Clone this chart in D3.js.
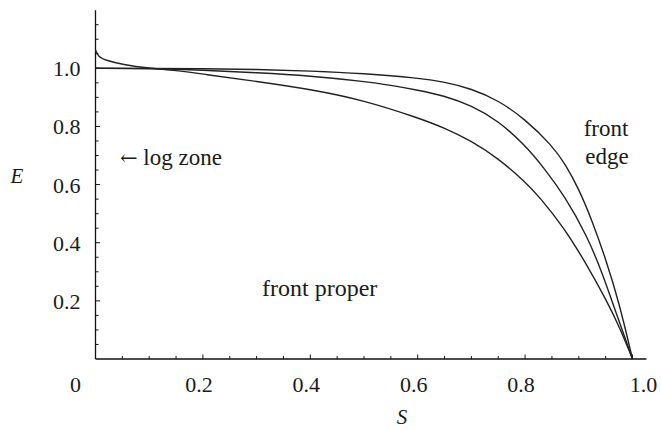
<!DOCTYPE html>
<html>
<head>
<meta charset="utf-8">
<script src="https://cdn.jsdelivr.net/npm/d3@7"></script>
</head>
<body style="margin:0; background:#fff">
<div id="fig"></div>
<script>
// curve samples (S, E)
var sTop = [0, 0.1, 0.2, 0.3, 0.4, 0.5, 0.6, 0.65, 0.7, 0.75, 0.8, 0.85, 0.875, 0.9, 0.925, 0.95, 0.975, 1.0];
var eTop = [1.0, 1.0, 0.999, 0.996, 0.991, 0.982, 0.967, 0.953, 0.93, 0.89, 0.825, 0.735, 0.67, 0.585, 0.475, 0.345, 0.195, 0];

var sMid = [0, 0.1, 0.2, 0.3, 0.4, 0.5, 0.55, 0.6, 0.65, 0.7, 0.75, 0.8, 0.834, 0.874, 0.915, 0.943, 0.971, 1.0];
var eMid = [1.0, 0.999, 0.994, 0.985, 0.974, 0.955, 0.942, 0.925, 0.905, 0.872, 0.82, 0.735, 0.66, 0.56, 0.425, 0.3, 0.15, 0];

var sLow = [0, 0.005, 0.02, 0.05, 0.1, 0.15, 0.2, 0.3, 0.4, 0.5, 0.6, 0.65, 0.7, 0.75, 0.8, 0.828, 0.871, 0.915, 0.952, 0.977, 1.0];
var eLow = [1.063, 1.04, 1.027, 1.013, 1.0, 0.993, 0.98, 0.955, 0.928, 0.89, 0.83, 0.795, 0.75, 0.69, 0.61, 0.555, 0.455, 0.325, 0.2, 0.105, 0];

var xTicks = [0, 0.2, 0.4, 0.6, 0.8, 1.0];
var xLabels = ["0", "0.2", "0.4", "0.6", "0.8", "1.0"];
var yTicks = [0.2, 0.4, 0.6, 0.8, 1.0];
var yLabels = ["0.2", "0.4", "0.6", "0.8", "1.0"];

var width = 661, height = 430;
var serif = "'Liberation Serif'";

var x = d3.scaleLinear().domain([0, 1]).range([95.5, 632.5]);
var y = d3.scaleLinear().domain([0, 1]).range([359, 68.3]);

var svg = d3.select("#fig").append("svg")
  .attr("width", width)
  .attr("height", height);

function label(sel, size) {
  return sel.attr("fill", "#1a1a1a")
    .style("font-family", serif, "important")
    .style("font-size", size + "px");
}

// axes lines, running a bit past the data like the original
var axisG = svg.append("g").attr("stroke", "#111").attr("stroke-width", 1.3);
axisG.append("line")
  .attr("x1", x(0)).attr("x2", x(1.026))
  .attr("y1", y(0)).attr("y2", y(0));
axisG.append("line")
  .attr("x1", x(0)).attr("x2", x(0))
  .attr("y1", y(0)).attr("y2", y(1.2));

// ticks: major and minor, pointing inward
var xMinor = d3.range(1, 21).map(function(i) { return i * 0.05; });
var yMinor = d3.range(1, 24).map(function(i) { return i * 0.05; });

function isMajor(v) { return Math.abs(v * 5 - Math.round(v * 5)) < 1e-6; }

var tickG = svg.append("g").attr("stroke", "#111").attr("stroke-width", 1);
tickG.selectAll(".xt")
  .data(xMinor)
  .enter().append("line")
    .attr("x1", function(d) { return x(d); })
    .attr("x2", function(d) { return x(d); })
    .attr("y1", y(0))
    .attr("y2", function(d) { return y(0) - (isMajor(d) ? 4.5 : 3); });
tickG.selectAll(".yt")
  .data(yMinor)
  .enter().append("line")
    .attr("y1", function(d) { return y(d); })
    .attr("y2", function(d) { return y(d); })
    .attr("x1", x(0))
    .attr("x2", function(d) { return x(0) + (isMajor(d) ? 4.5 : 3); });

// tick labels (end labels sit a little outward, as in the original)
svg.selectAll(".xl")
  .data(xTicks)
  .enter().append("text")
    .attr("x", function(d, i) {
      var shift = -4;
      if (i === 0) shift = -20;
      if (i === xTicks.length - 1) shift = 11;
      return x(d) + shift;
    })
    .attr("y", y(0) + 33)
    .attr("text-anchor", "middle")
    .call(label, 22)
    .text(function(d, i) { return xLabels[i]; });

svg.selectAll(".yl")
  .data(yTicks)
  .enter().append("text")
    .attr("x", x(0) - 15)
    .attr("y", function(d) { return y(d) + 8; })
    .attr("text-anchor", "end")
    .call(label, 22)
    .text(function(d, i) { return yLabels[i]; });

// axis titles
svg.append("text")
  .attr("x", 17).attr("y", 183)
  .attr("text-anchor", "middle")
  .call(label, 21)
  .style("font-style", "italic")
  .text("E");
svg.append("text")
  .attr("x", 402).attr("y", 424)
  .attr("text-anchor", "middle")
  .call(label, 21)
  .style("font-style", "italic")
  .text("S");

// curves
var line = d3.line()
  .x(function(d) { return x(d[0]); })
  .y(function(d) { return y(d[1]); })
  .curve(d3.curveBasis);

var series = [
  d3.zip(sTop, eTop),
  d3.zip(sMid, eMid),
  d3.zip(sLow, eLow)
];

svg.append("g").selectAll("path")
  .data(series)
  .enter().append("path")
    .attr("d", line)
    .attr("fill", "none")
    .attr("stroke", "#222")
    .attr("stroke-width", 1.4);

// annotations
var logZone = svg.append("text")
  .attr("x", 120).attr("y", 165)
  .call(label, 23);
logZone.append("tspan")
  .style("font-family", "'DejaVu Serif'", "important")
  .style("font-size", "21px")
  .text("\u2190");
logZone.append("tspan").text(" log zone");

svg.append("text")
  .attr("x", 262).attr("y", 296)
  .call(label, 24)
  .text("front proper");
var edge = svg.append("text")
  .attr("text-anchor", "middle")
  .call(label, 23);
edge.append("tspan").attr("x", 606).attr("y", 136).text("front");
edge.append("tspan").attr("x", 607).attr("y", 164).text("edge");
</script>
</body>
</html>
